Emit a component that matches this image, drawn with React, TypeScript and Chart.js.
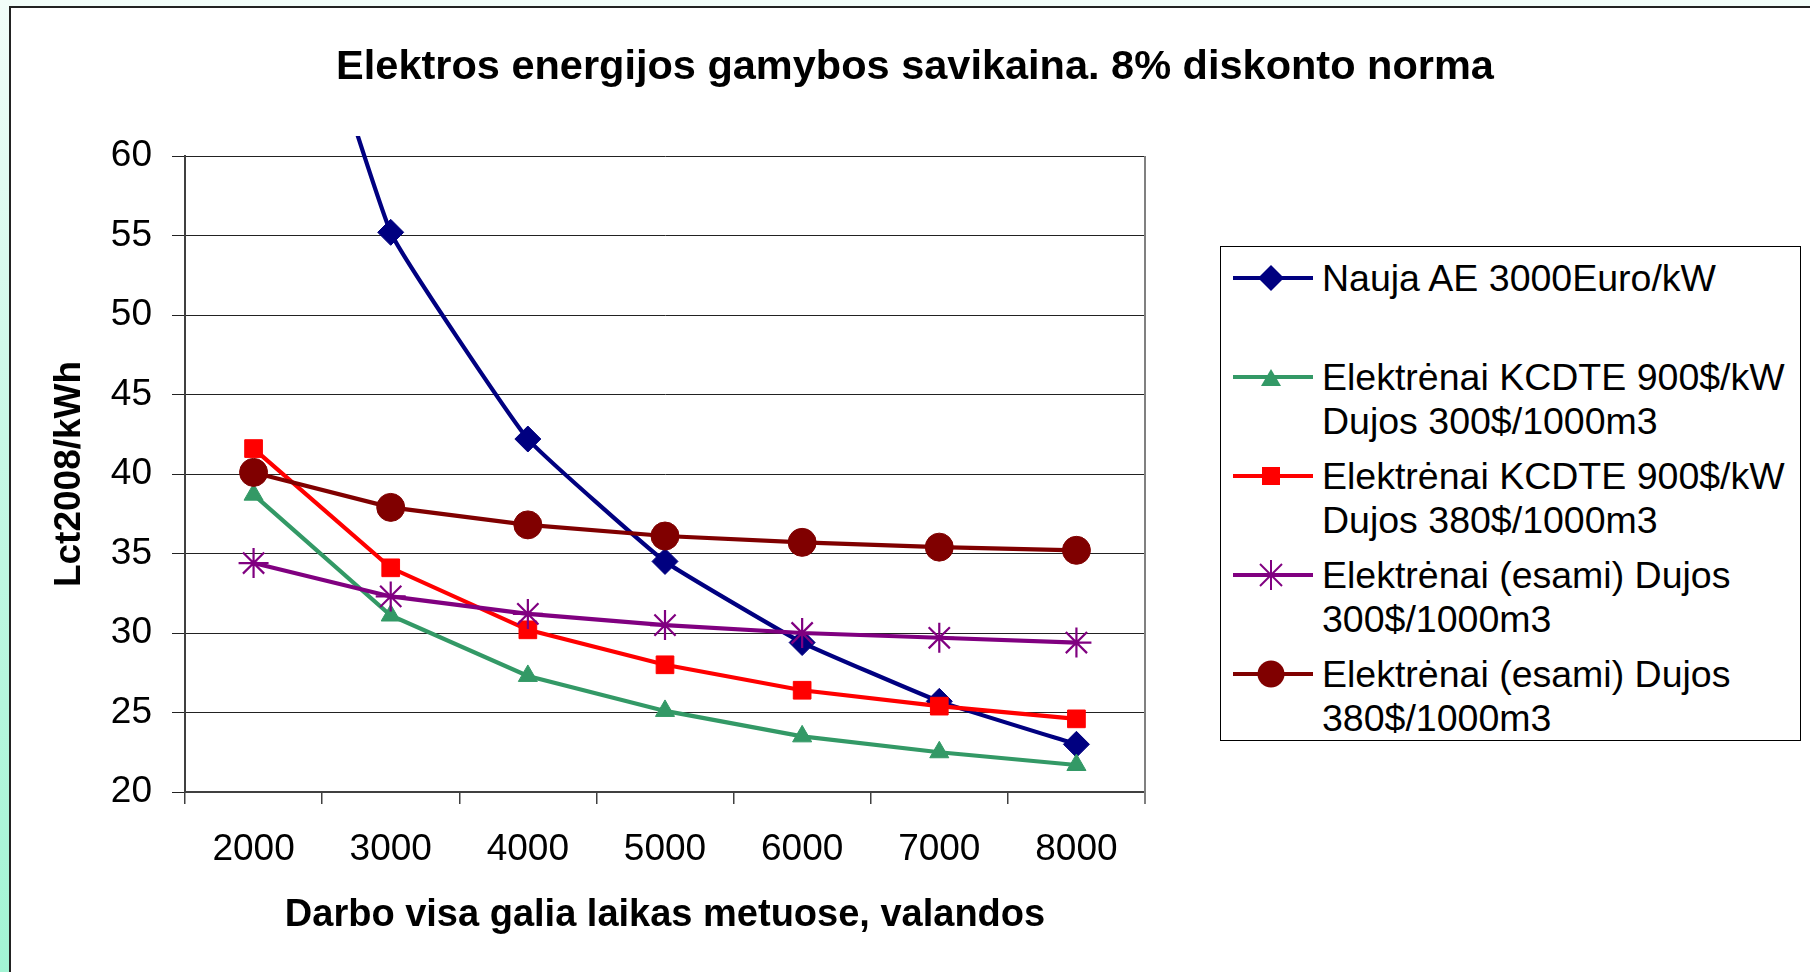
import React, { useEffect, useRef } from "react";
import { Chart, registerables } from "chart.js";

Chart.register(...registerables);

// ---------- data ----------
const categories = ["2000", "3000", "4000", "5000", "6000", "7000", "8000"];
const naujaAE = [82, 55.2, 42.2, 34.5, 29.4, 25.7, 23.0];
const kcdte300 = [38.7, 31.1, 27.3, 25.1, 23.5, 22.5, 21.7];
const kcdte380 = [41.6, 34.1, 30.2, 28.0, 26.4, 25.4, 24.6];
const esami300 = [34.4, 32.3, 31.2, 30.5, 30.0, 29.7, 29.4];
const esami380 = [40.1, 37.9, 36.8, 36.1, 35.7, 35.4, 35.2];

const seriesNames = [
  "Nauja AE 3000Euro/kW",
  "Elektrėnai KCDTE 900$/kW\nDujos 300$/1000m3",
  "Elektrėnai KCDTE 900$/kW\nDujos 380$/1000m3",
  "Elektrėnai (esami) Dujos\n300$/1000m3",
  "Elektrėnai (esami) Dujos\n380$/1000m3",
];

const yMin = 20;
const yMax = 60;
const yStep = 5;

const chartTitle = "Elektros energijos gamybos savikaina. 8% diskonto norma";
const xTitle = "Darbo visa galia laikas metuose, valandos";
const yTitle = "Lct2008/kWh";

// ---------- styles ----------
const FONT = "'Liberation Sans', Arial, Helvetica, sans-serif";
const seriesData = [naujaAE, kcdte300, kcdte380, esami300, esami380];
const seriesColors = ["#000080", "#339966", "#FF0000", "#800080", "#800000"];
const seriesShapes = ["rectRot", "triangle", "rect", "star", "circle"];
const seriesRadius = [13, 11, 12.5, 15, 14];
const legendTops = [9, 108, 207, 306, 405];

const plotBorder = {
  id: "plotBorder",
  beforeDatasetsDraw(chart: any) {
    const { ctx, chartArea } = chart;
    ctx.save();
    ctx.strokeStyle = "#808080";
    ctx.lineWidth = 2;
    ctx.beginPath();
    ctx.moveTo(chartArea.right, chartArea.top);
    ctx.lineTo(chartArea.right, chartArea.bottom + 12);
    ctx.stroke();
    ctx.restore();
  },
};

function Marker({ shape, color }: { shape: string; color: string }) {
  const cx = 50;
  const cy = 22;
  let m: any = null;
  if (shape === "rectRot")
    m = <polygon points={`${cx - 13},${cy} ${cx},${cy - 13} ${cx + 13},${cy} ${cx},${cy + 13}`} fill={color} />;
  else if (shape === "triangle")
    m = <polygon points={`${cx - 10},${cy + 9} ${cx + 10},${cy + 9} ${cx},${cy - 8}`} fill={color} />;
  else if (shape === "rect") m = <rect x={cx - 9} y={cy - 9} width={18} height={18} fill={color} />;
  else if (shape === "circle") m = <circle cx={cx} cy={cy} r={13.5} fill={color} />;
  else if (shape === "star")
    m = (
      <g stroke={color} strokeWidth={2}>
        <line x1={cx} y1={cy - 15} x2={cx} y2={cy + 15} />
        <line x1={cx - 15} y1={cy} x2={cx + 15} y2={cy} />
        <line x1={cx - 11} y1={cy - 11} x2={cx + 11} y2={cy + 11} />
        <line x1={cx - 11} y1={cy + 11} x2={cx + 11} y2={cy - 11} />
      </g>
    );
  return (
    <svg width={100} height={44} style={{ position: "absolute", left: 0, top: 0 }}>
      <line x1={12} y1={cy} x2={92} y2={cy} stroke={color} strokeWidth={4} />
      {m}
    </svg>
  );
}

export default function App() {
  const ref = useRef<HTMLCanvasElement | null>(null);

  useEffect(() => {
    if (!ref.current) return;
    const datasets = seriesData.map((d, i) => ({
      label: seriesNames[i].replace("\n", " "),
      data: d,
      borderColor: seriesColors[i],
      backgroundColor: seriesColors[i],
      borderWidth: 4.2,
      pointStyle: seriesShapes[i],
      pointRadius: seriesRadius[i],
      pointBorderWidth: seriesShapes[i] === "star" ? 2.2 : 1,
      pointBackgroundColor: seriesColors[i],
      pointBorderColor: seriesColors[i],
      tension: i === 0 ? 0.1 : 0,
      order: seriesData.length - i,
      clip: i === 0 ? { left: 10, top: 20, right: 10, bottom: 10 } : 10,
    }));
    const chart = new Chart(ref.current, {
      type: "line",
      data: { labels: categories, datasets: datasets as any },
      plugins: [plotBorder],
      options: {
        animation: false,
        responsive: false,
        maintainAspectRatio: false,
        devicePixelRatio: 1,
        layout: { padding: { left: 0, top: 156, right: 665, bottom: 0 } },
        plugins: {
          legend: { display: false },
          title: { display: false },
          tooltip: { enabled: false },
        },
        scales: {
          x: {
            type: "category",
            offset: true,
            grid: {
              display: true,
              drawOnChartArea: false,
              drawTicks: true,
              tickLength: 12,
              offset: true,
              color: "#404040",
              lineWidth: 1.5,
            },
            border: { display: true, color: "#404040", width: 2 },
            ticks: {
              color: "#000",
              font: { family: FONT, size: 37 },
              padding: 24,
              maxRotation: 0,
              autoSkip: false,
            },
            title: {
              display: true,
              text: xTitle,
              color: "#000",
              font: { family: FONT, size: 38, weight: "bold" },
              padding: { top: 0, bottom: 34 },
            },
            afterFit: (s: any) => {
              s.height = 180;
            },
          },
          y: {
            min: yMin,
            max: yMax,
            ticks: {
              stepSize: yStep,
              color: "#000",
              font: { family: FONT, size: 37 },
              padding: 20,
            },
            grid: { color: "#222", lineWidth: 1, tickLength: 13 },
            border: { display: true, color: "#404040", width: 2 },
            title: {
              display: true,
              text: yTitle,
              color: "#000",
              font: { family: FONT, size: 37, weight: "bold" },
              padding: { top: 48, bottom: 0 },
            },
            afterFit: (s: any) => {
              s.width = 185;
            },
          },
        },
      } as any,
    });
    return () => chart.destroy();
  }, []);

  return (
    <div
      style={{
        position: "fixed",
        left: 0,
        top: 0,
        width: 1810,
        height: 972,
        overflow: "hidden",
        background: "linear-gradient(to bottom, #f2fdf9 0%, #c8f8e6 45%, #a2f4d4 100%)",
        fontFamily: FONT,
      }}
    >
      <div
        style={{
          position: "absolute",
          left: 9,
          top: 6,
          width: 1820,
          height: 990,
          background: "#fff",
          borderLeft: "2.5px solid #222",
          borderTop: "2.5px solid #222",
        }}
      />
      <canvas ref={ref} width={1810} height={972} style={{ position: "absolute", left: 0, top: 0 }} />
      <div
        style={{
          position: "absolute",
          left: 0,
          top: 41,
          width: 1830,
          textAlign: "center",
          fontSize: 41.5,
          lineHeight: "48px",
          fontWeight: "bold",
          color: "#000",
          whiteSpace: "pre",
        }}
      >
        {chartTitle}
      </div>
      <div
        style={{
          position: "absolute",
          left: 1220,
          top: 246,
          width: 581,
          height: 495,
          boxSizing: "border-box",
          border: "1.5px solid #000",
          background: "#fff",
        }}
      >
        {seriesNames.map((name, i) => (
          <div key={i} style={{ position: "absolute", left: 0, top: legendTops[i], width: 575 }}>
            <Marker shape={seriesShapes[i]} color={seriesColors[i]} />
            <div
              style={{
                position: "absolute",
                left: 101,
                top: 0,
                fontSize: 37.5,
                lineHeight: "44px",
                color: "#000",
                whiteSpace: "pre",
              }}
            >
              {name}
            </div>
          </div>
        ))}
      </div>
    </div>
  );
}
